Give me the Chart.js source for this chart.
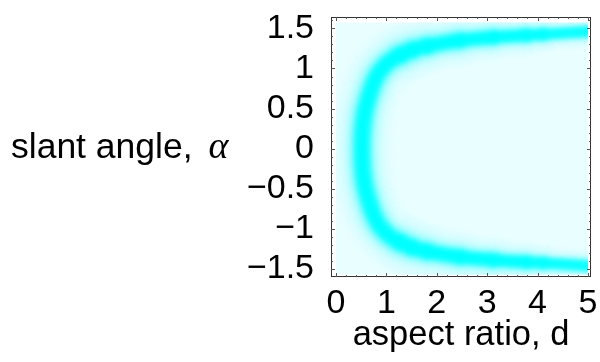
<!DOCTYPE html>
<html>
<head>
<meta charset="utf-8">
<script src="https://cdn.jsdelivr.net/npm/chart.js@4.4.0/dist/chart.umd.min.js"></script>
<style>
  html, body { margin: 0; padding: 0; background: #fff; }
  #wrap { width: 600px; height: 362px; }
</style>
</head>
<body>
<div id="wrap"><canvas id="plot" width="600" height="362"></canvas></div>
<script>
// ridge of the density plot: aspect ratio d, slant angle alpha
const curveD = [5.0, 4.11, 3.78, 3.12, 2.46, 1.80, 1.50, 1.27, 1.08, 0.94, 0.82, 0.71, 0.575, 0.525, 0.51,
                0.525, 0.575, 0.71, 0.82, 0.94, 1.08, 1.27, 1.50, 1.80, 2.46, 3.12, 3.78, 4.11, 5.0];
const curveAlpha = [-1.46, -1.426, -1.415, -1.389, -1.35, -1.28, -1.23, -1.168, -1.10, -1.02, -0.92, -0.77, -0.48, -0.25, 0,
                    0.25, 0.48, 0.77, 0.92, 1.02, 1.10, 1.168, 1.23, 1.28, 1.35, 1.389, 1.415, 1.426, 1.46];

const xTickValues = [0, 1, 2, 3, 4, 5];
const xTickLabels = ['0', '1', '2', '3', '4', '5'];
const yTickValues = [-1.5, -1, -0.5, 0, 0.5, 1, 1.5];
const yTickLabels = ['\u22121.5', '\u22121', '\u22120.5', '0', '0.5', '1', '1.5'];

// extent of the density image inside the frame
const imageD = [0, 5];
const imageAlpha = [-1.5708, 1.5708];

const FONT = "'Liberation Sans', Arial, sans-serif";
const bg = [232, 254, 255];
const peak = [0, 255, 255];

function mix(t) {
    const c = bg.map((v, k) => Math.round(v + (peak[k] - v) * t));
    return `rgb(${c[0]},${c[1]},${c[2]})`;
}

// fall-off of the cyan band away from its ridge (pixels)
function glow(r) {
    return r <= 4.5 ? 1 : Math.exp(-(r - 4.5) / 5.5);
}

// band gets thinner along the tails
function tailScale(d) {
    return d <= 1.2 ? 1 : Math.max(0.4, 1 - (d - 1.2) * 0.16);
}

const layerCount = 22;
const datasets = [];
for (let i = 0; i < layerCount; i++) {
    const r = 4.5 + i * (27 - 4.5) / (layerCount - 1);
    const w = 2 * r;
    datasets.push({
        data: curveD.map((d, k) => ({ x: d, y: curveAlpha[k] })),
        showLine: true,
        borderColor: mix(glow(r - 0.5)),
        borderWidth: w,
        borderCapStyle: 'round',
        borderJoinStyle: 'round',
        tension: 0.35,
        pointRadius: 0,
        segment: {
            borderWidth: ctx => w * tailScale((ctx.p0.parsed.x + ctx.p1.parsed.x) / 2)
        }
    });
}

const densityFrame = {
    id: 'densityFrame',
    beforeDatasetsDraw(chart) {
        const { ctx, scales: { x, y } } = chart;
        const l = x.getPixelForValue(imageD[0]), r = x.getPixelForValue(imageD[1]);
        const t = y.getPixelForValue(imageAlpha[1]), b = y.getPixelForValue(imageAlpha[0]);
        ctx.save();
        ctx.fillStyle = mix(0);
        ctx.fillRect(l, t, r - l, b - t);
        ctx.beginPath();
        ctx.rect(l, t, r - l, b - t);
        ctx.clip();
        ctx.filter = 'blur(2.5px)';
    },
    afterDatasetsDraw(chart) {
        chart.ctx.filter = 'none';
        chart.ctx.restore();
    },
    afterDraw(chart) {
        const { ctx, chartArea: a, scales: { x, y } } = chart;
        ctx.save();
        ctx.strokeStyle = '#333';
        ctx.lineWidth = 1;
        ctx.strokeRect(a.left + 0.5, a.top + 0.5, a.right - a.left - 1, a.bottom - a.top - 1);

        // inward frame ticks on all four sides
        ctx.strokeStyle = '#555';
        ctx.beginPath();
        for (let v = 0; v <= 25; v++) {
            const px = Math.round(x.getPixelForValue(v / 5)) + 0.5;
            const len = v % 5 === 0 ? 4 : 2;
            ctx.moveTo(px, a.bottom); ctx.lineTo(px, a.bottom - len);
            ctx.moveTo(px, a.top); ctx.lineTo(px, a.top + len);
        }
        for (let v = -15; v <= 16; v++) {
            const py = Math.round(y.getPixelForValue(v / 10)) + 0.5;
            const len = v % 5 === 0 ? 4 : 2;
            ctx.moveTo(a.left, py); ctx.lineTo(a.left + len, py);
            ctx.moveTo(a.right, py); ctx.lineTo(a.right - len, py);
        }
        ctx.stroke();

        // horizontal y-axis title
        ctx.fillStyle = '#000';
        ctx.textBaseline = 'alphabetic';
        ctx.font = '35.5px ' + FONT;
        const lead = 'slant angle, ';
        ctx.fillText(lead, 11, 158);
        const w = ctx.measureText(lead).width;
        ctx.font = "italic 38px 'Liberation Serif', serif";
        ctx.fillText('\u03b1', 11 + w + 6, 158);
        ctx.restore();
    }
};

new Chart(document.getElementById('plot'), {
    type: 'scatter',
    data: { datasets },
    plugins: [densityFrame],
    options: {
        responsive: false,
        animation: false,
        events: [],
        layout: { padding: { top: 17, right: 9, left: 0, bottom: 0 } },
        plugins: { legend: { display: false }, tooltip: { enabled: false } },
        scales: {
            x: {
                type: 'linear',
                min: -0.099,
                max: 5.06,
                grid: { display: false },
                border: { display: false },
                afterBuildTicks: s => { s.ticks = xTickValues.map(v => ({ value: v })); },
                afterFit: s => { s.height = 85; s.paddingLeft = 0; s.paddingRight = 0; },
                ticks: {
                    autoSkip: false,
                    maxRotation: 0,
                    padding: -2,
                    color: '#000',
                    font: { family: FONT, size: 34 },
                    callback: v => xTickLabels[xTickValues.indexOf(v)]
                },
                title: {
                    display: true,
                    text: 'aspect ratio, d',
                    color: '#000',
                    font: { family: FONT, size: 34.5 },
                    padding: { top: 0, bottom: 6 }
                }
            },
            y: {
                type: 'linear',
                min: -1.60,
                max: 1.642,
                grid: { display: false },
                border: { display: false },
                afterBuildTicks: s => { s.ticks = yTickValues.map(v => ({ value: v })); },
                afterFit: s => { s.width = 331; s.paddingTop = 0; s.paddingBottom = 0; },
                ticks: {
                    autoSkip: false,
                    padding: 9,
                    color: '#000',
                    font: { family: FONT, size: 34 },
                    callback: v => yTickLabels[yTickValues.indexOf(v)]
                }
            }
        }
    }
});
</script>
</body>
</html>
